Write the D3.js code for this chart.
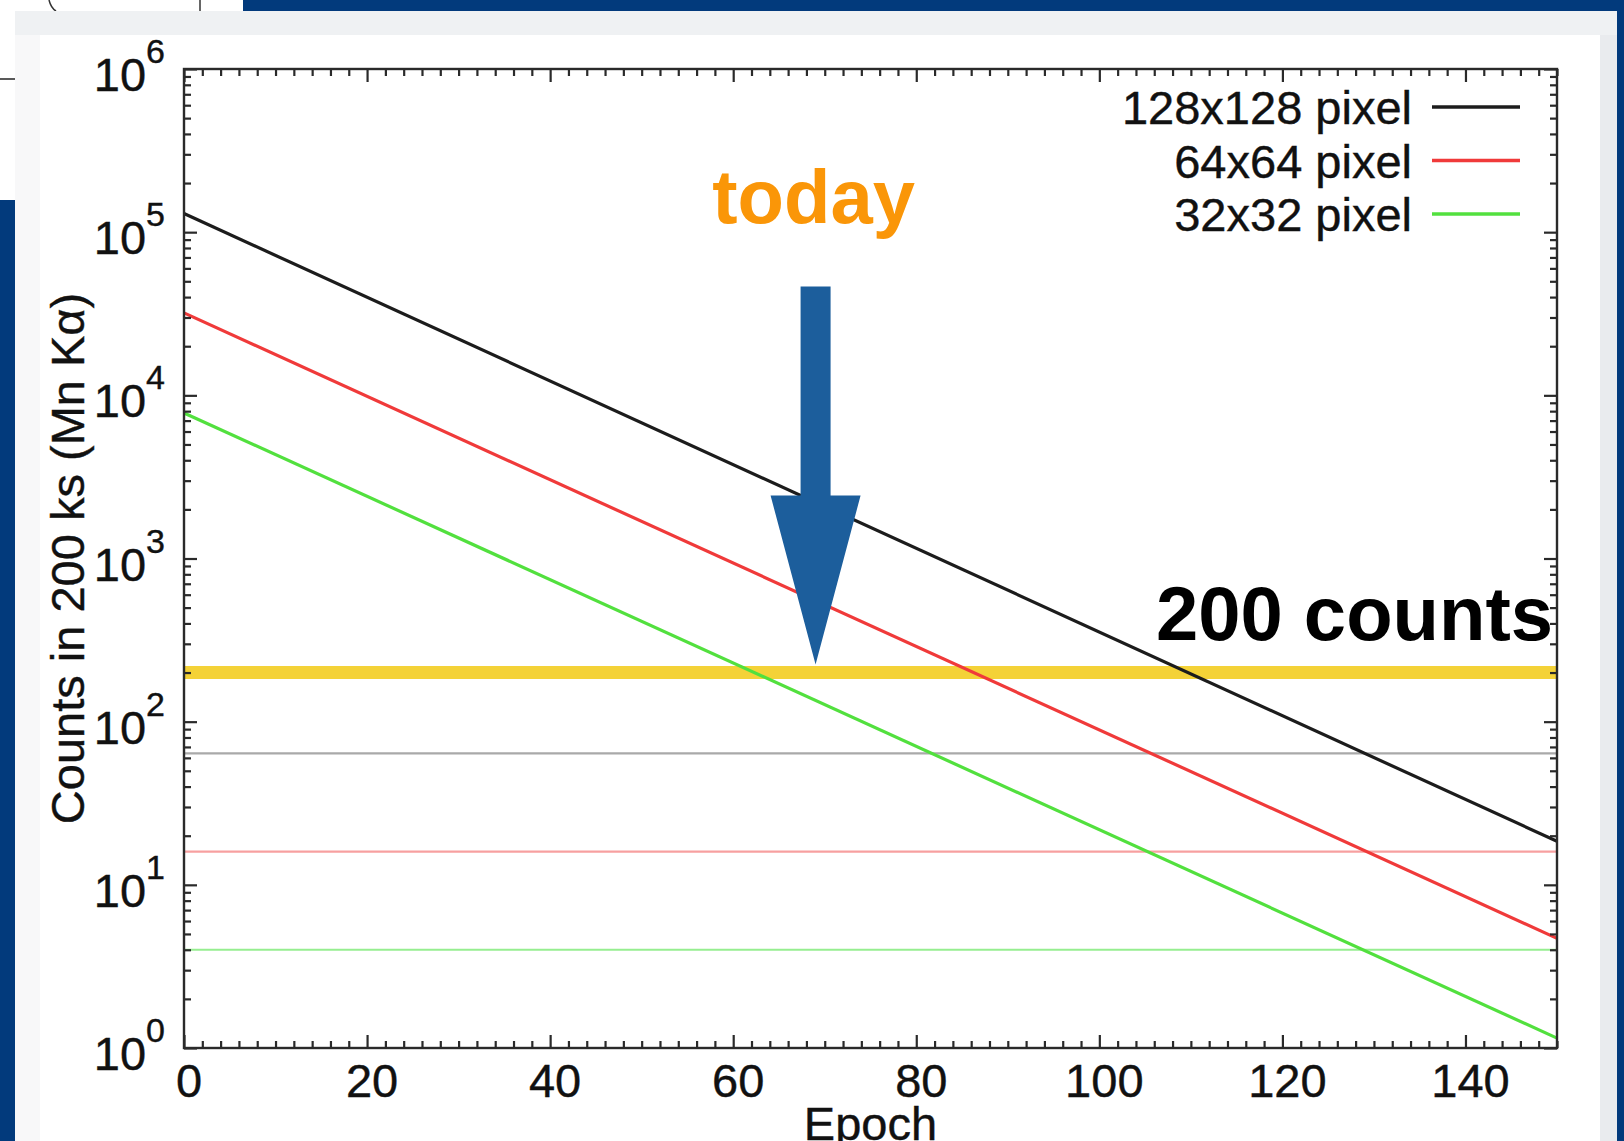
<!DOCTYPE html>
<html>
<head>
<meta charset="utf-8">
<script src="https://cdn.jsdelivr.net/npm/d3@7"></script>
<style>
  html, body { margin: 0; padding: 0; background: #023a7c; overflow: hidden; }
  svg { display: block; font-family: "Liberation Sans", Arial, Helvetica, sans-serif; }
</style>
</head>
<body>
<svg id="chart" width="1624" height="1141"></svg>
<script>
// Expected source counts per epoch, for three detector region sizes
const epochs = [0, 150];
const seriesNames = ["128x128 pixel", "64x64 pixel", "32x32 pixel"];
const seriesColors = ["#1c1c1c", "#f03a3a", "#52e03e"];
const seriesCounts = [
  [130000, 18.5],
  [32000, 4.7],
  [7800, 1.15]
];
// Background levels for each region size
const backgroundLevels = [64, 16, 4];
const backgroundColors = ["#a9a9a9", "#f7a0a0", "#96ee90"];
// Threshold and current epoch marker
const thresholdCounts = 200;
const todayEpoch = 69;
// Axis ticks
const xMajorTicks = [0, 20, 40, 60, 80, 100, 120, 140];
const yDecades = [0, 1, 2, 3, 4, 5, 6];

const svg = d3.select("#chart");

// Slide backdrop around the figure
svg.append("rect").attr("x", 0).attr("y", 0).attr("width", 243).attr("height", 11).attr("fill", "#ffffff");
svg.append("rect").attr("x", 0).attr("y", 0).attr("width", 15).attr("height", 200).attr("fill", "#ffffff");
svg.append("line").attr("x1", 0).attr("x2", 15).attr("y1", 79).attr("y2", 79).attr("stroke", "#222").attr("stroke-width", 1.5);
svg.append("line").attr("x1", 200).attr("x2", 200).attr("y1", 0).attr("y2", 11).attr("stroke", "#333").attr("stroke-width", 1.5);
svg.append("path").attr("d", "M49,0 Q51,8 56,11").attr("fill", "none").attr("stroke", "#333").attr("stroke-width", 1.5);

// Figure panel
svg.append("rect").attr("x", 15).attr("y", 11).attr("width", 1602).attr("height", 1130).attr("fill", "#eff1f3");
svg.append("rect").attr("x", 15).attr("y", 35).attr("width", 25).attr("height", 1106).attr("fill", "#f8f8f9");
svg.append("rect").attr("x", 1600).attr("y", 35).attr("width", 17).attr("height", 1106).attr("fill", "#e9ebee");
svg.append("rect").attr("x", 40).attr("y", 35).attr("width", 1560).attr("height", 1106).attr("fill", "#ffffff");

const plot = { left: 184, right: 1557, top: 69, bottom: 1048 };

const x = d3.scaleLinear().domain([0, 150]).range([plot.left, plot.right]);
const y = d3.scaleLog().domain([1, 1e6]).range([plot.bottom, plot.top]);

const g = svg.append("g");

// Background level lines
backgroundLevels.forEach((v, i) => {
  g.append("line")
    .attr("x1", x(0)).attr("x2", x(150))
    .attr("y1", y(v)).attr("y2", y(v))
    .attr("stroke", backgroundColors[i]).attr("stroke-width", 2.2);
});

// Threshold line
g.append("line")
  .attr("x1", x(0)).attr("x2", x(150))
  .attr("y1", y(thresholdCounts)).attr("y2", y(thresholdCounts))
  .attr("stroke", "#f4d237").attr("stroke-width", 13);

// Count curves
const line = d3.line().x(d => x(d[0])).y(d => y(d[1]));
seriesCounts.forEach((vals, i) => {
  g.append("path")
    .datum(epochs.map((e, j) => [e, vals[j]]))
    .attr("d", line)
    .attr("fill", "none")
    .attr("stroke", seriesColors[i])
    .attr("stroke-width", 3.2);
});

// Axes: ticks point inward on all four sides
const xMinor = d3.range(0, 151, 2).filter(v => v % 20 !== 0);
const yMinor = [];
for (let d = 0; d < 6; d++) for (let k = 2; k <= 9; k++) yMinor.push(k * Math.pow(10, d));
const yMajor = yDecades.map(d => Math.pow(10, d));

function styleAxis(sel) {
  sel.select(".domain").remove();
  sel.selectAll(".tick line").attr("stroke", "#2a2a2a").attr("stroke-width", 2.2);
  sel.selectAll(".tick text").remove();
}
const axes = [
  [d3.axisBottom, x, xMajorTicks, xMinor, `translate(0,${plot.bottom})`],
  [d3.axisTop, x, xMajorTicks, xMinor, `translate(0,${plot.top})`],
  [d3.axisLeft, y, yMajor, yMinor, `translate(${plot.left},0)`],
  [d3.axisRight, y, yMajor, yMinor, `translate(${plot.right},0)`]
];
axes.forEach(([fn, sc, maj, min, tr]) => {
  g.append("g").attr("transform", tr).call(fn(sc).tickValues(maj).tickSize(-13).tickFormat("")).call(styleAxis);
  g.append("g").attr("transform", tr).call(fn(sc).tickValues(min).tickSize(-7).tickFormat("")).call(styleAxis);
});

// Frame
g.append("rect")
  .attr("x", plot.left).attr("y", plot.top)
  .attr("width", plot.right - plot.left).attr("height", plot.bottom - plot.top)
  .attr("fill", "none").attr("stroke", "#2a2a2a").attr("stroke-width", 2.4);

// X tick labels
g.selectAll(".xlab").data(xMajorTicks).join("text")
  .attr("x", d => x(d) + 5).attr("y", plot.bottom + 49)
  .attr("text-anchor", "middle").attr("font-size", 47).attr("fill", "#111")
  .attr("stroke", "#111").attr("stroke-width", 0.4)
  .text(d => d);

// Y tick labels as powers of ten
yDecades.forEach(d => {
  const t = g.append("text")
    .attr("x", 165).attr("y", y(Math.pow(10, d)) + 22)
    .attr("text-anchor", "end").attr("fill", "#111")
    .attr("stroke", "#111").attr("stroke-width", 0.4);
  t.append("tspan").attr("font-size", 47).text("10");
  t.append("tspan").attr("font-size", 34).attr("dy", -28).text(d);
});

// Axis titles
g.append("text")
  .attr("x", (plot.left + plot.right) / 2).attr("y", 1140)
  .attr("text-anchor", "middle").attr("font-size", 47).attr("fill", "#111")
  .attr("stroke", "#111").attr("stroke-width", 0.4)
  .text("Epoch");
g.append("text")
  .attr("transform", `translate(84,${(plot.top + plot.bottom) / 2}) rotate(-90)`)
  .attr("text-anchor", "middle").attr("font-size", 47).attr("fill", "#111")
  .attr("stroke", "#111").attr("stroke-width", 0.4)
  .text("Counts in 200 ks (Mn K\u03b1)");

// Legend
seriesNames.forEach((name, i) => {
  const ly = 107 + i * 53.5;
  g.append("text")
    .attr("x", 1412).attr("y", ly + 17)
    .attr("text-anchor", "end").attr("font-size", 47).attr("fill", "#111")
    .attr("stroke", "#111").attr("stroke-width", 0.4)
    .text(name);
  g.append("line")
    .attr("x1", 1432).attr("x2", 1520).attr("y1", ly).attr("y2", ly)
    .attr("stroke", seriesColors[i]).attr("stroke-width", 3.4);
});

// Threshold label
g.append("text")
  .attr("x", 1553).attr("y", y(thresholdCounts) - 33)
  .attr("text-anchor", "end").attr("font-size", 76).attr("font-weight", "bold").attr("fill", "#000")
  .text("200 counts");

// Today marker
const tx = x(todayEpoch);
const tipY = y(thresholdCounts) - 8;
const arrow = [
  [tx - 15, tipY - 378], [tx + 15, tipY - 378], [tx + 15, tipY - 169],
  [tx + 45, tipY - 169], [tx, tipY], [tx - 45, tipY - 169], [tx - 15, tipY - 169]
];
g.append("path")
  .attr("d", d3.line()(arrow) + "Z")
  .attr("fill", "#1c5e9c");
g.append("text")
  .attr("x", tx - 2).attr("y", 223)
  .attr("text-anchor", "middle").attr("font-size", 76).attr("font-weight", "bold").attr("fill", "#fa9608")
  .text("today");
</script>
</body>
</html>
